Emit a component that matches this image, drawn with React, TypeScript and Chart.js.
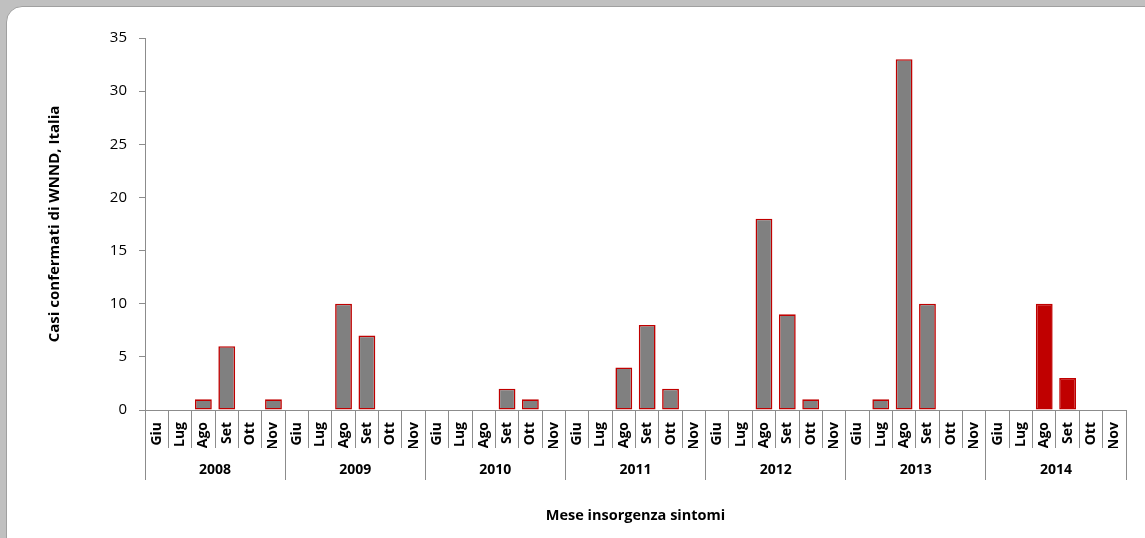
import React, { useEffect, useRef } from "react";
import { Chart, registerables } from "chart.js";

Chart.register(...registerables);

const years = ["2008", "2009", "2010", "2011", "2012", "2013", "2014"];
const months = ["Giu", "Lug", "Ago", "Set", "Ott", "Nov"];
const cases2008 = [0, 0, 1, 6, 0, 1];
const cases2009 = [0, 0, 10, 7, 0, 0];
const cases2010 = [0, 0, 0, 2, 1, 0];
const cases2011 = [0, 0, 4, 8, 2, 0];
const cases2012 = [0, 0, 18, 9, 1, 0];
const cases2013 = [0, 1, 33, 10, 0, 0];
const cases2014 = [0, 0, 10, 3, 0, 0];
const yTicks = [0, 5, 10, 15, 20, 25, 30, 35];

const FONT = "'Open Sans', sans-serif";
const AXIS = "#8c8c8c";
const GREY = "#808080";
const RED = "#c00000";

export default function App() {
  const ref = useRef<HTMLCanvasElement | null>(null);

  useEffect(() => {
    document.body.style.margin = "0";
    const canvas = ref.current;
    if (!canvas) return;
    const allValues = [
      ...cases2008,
      ...cases2009,
      ...cases2010,
      ...cases2011,
      ...cases2012,
      ...cases2013,
      ...cases2014,
    ];
    const monthLabels: string[] = [];
    years.forEach(() => months.forEach((m) => monthLabels.push(m)));
    const lastStart = (years.length - 1) * months.length;
    const bg = allValues.map((_, i) => (i >= lastStart ? RED : GREY));

    const chart = new Chart(canvas, {
      type: "bar",
      data: {
        labels: monthLabels,
        datasets: [
          {
            data: allValues,
            backgroundColor: bg,
            borderColor: RED,
            borderWidth: 1.6,
            borderSkipped: false,
            barPercentage: 0.72,
            categoryPercentage: 1,
            xAxisID: "x",
          },
        ],
      },
      options: {
        responsive: false,
        animation: false,
        layout: { padding: { left: 0, right: 19, top: 38, bottom: 0 } },
        plugins: { legend: { display: false }, tooltip: { enabled: false } },
        scales: {
          y: {
            min: 0,
            max: 35,
            afterFit: (s: any) => {
              s.width = 145;
            },
            afterBuildTicks: (s: any) => {
              s.ticks = yTicks.map((v) => ({ value: v }));
            },
            ticks: {
              font: { family: FONT, size: 15 },
              color: "#000",
              padding: 12,
            },
            grid: {
              drawOnChartArea: false,
              drawTicks: true,
              tickLength: 6,
              color: AXIS,
            },
            border: { display: true, color: AXIS },
            title: {
              display: true,
              text: "Casi confermati di WNND, Italia",
              font: { family: FONT, size: 15, weight: "bold" },
              color: "#000",
              padding: { top: 46, bottom: 0 },
            },
          },
          x: {
            type: "category",
            position: "bottom",
            afterFit: (s: any) => {
              s.height = 38;
            },
            ticks: {
              autoSkip: false,
              minRotation: 90,
              maxRotation: 90,
              padding: -26,
              font: { family: FONT, size: 14, weight: "bold" },
              color: "#000",
            },
            grid: {
              offset: true,
              drawOnChartArea: false,
              drawTicks: true,
              tickLength: 38,
              color: AXIS,
            },
            border: { display: true, color: AXIS },
          },
          x2: {
            type: "category",
            position: "bottom",
            labels: years,
            offset: true,
            afterFit: (s: any) => {
              s.height = 90;
            },
            ticks: {
              autoSkip: false,
              maxRotation: 0,
              minRotation: 0,
              padding: -18,
              font: { family: FONT, size: 14, weight: "bold" },
              color: "#000",
            },
            grid: {
              offset: true,
              drawOnChartArea: false,
              drawTicks: true,
              tickLength: 32,
              color: AXIS,
            },
            border: { display: false },
            title: {
              display: true,
              text: "Mese insorgenza sintomi",
              font: { family: FONT, size: 14.5, weight: "bold" },
              color: "#000",
              padding: { top: 0, bottom: 13 },
            },
          },
        },
      },
    });
    return () => chart.destroy();
  }, []);

  return (
    <div
      style={{
        position: "fixed",
        left: 0,
        top: 0,
        width: 1145,
        height: 538,
        background: "#c0c0c0",
        overflow: "hidden",
      }}
    >
      <div
        style={{
          position: "absolute",
          left: 6,
          top: 6,
          width: 1160,
          height: 570,
          background: "#fff",
          border: "1px solid #a0a0a0",
          borderRadius: 16,
        }}
      />
      <canvas
        ref={ref}
        width={1145}
        height={538}
        style={{ position: "absolute", left: 0, top: 0, width: 1145, height: 538 }}
      />
    </div>
  );
}
